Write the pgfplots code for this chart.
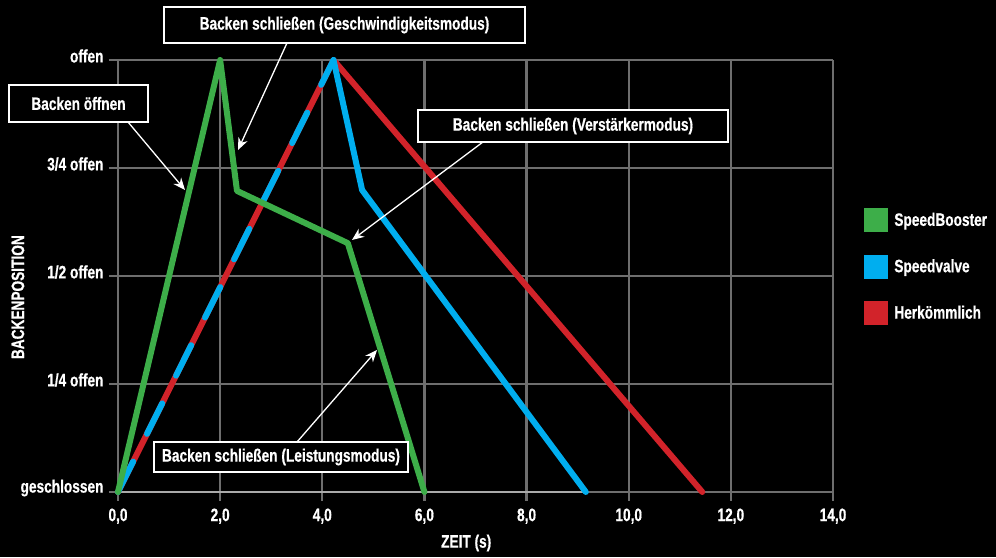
\documentclass[border=0pt]{standalone}
\usepackage{pgfplots}
\pgfplotsset{compat=1.18}
\usepackage{fontspec}
\setmainfont{Liberation Sans}
\newfontfamily\condbold{Liberation Sans Bold}[FakeStretch=0.76, FakeBold=0.6]
\usetikzlibrary{arrows.meta}
\definecolor{gridgray}{RGB}{110,110,110}
\definecolor{lightgridgray}{RGB}{170,170,170}
\definecolor{sbgreen}{RGB}{61,174,73}
\definecolor{svblue}{RGB}{0,174,239}
\definecolor{hkred}{RGB}{210,35,42}
\newcommand{\lbl}{\fontsize{18}{21}\selectfont\condbold}
\begin{document}
\begin{tikzpicture}[x=1pt,y=1pt]
\fill[black] (0,0) rectangle (996,557);
\begin{axis}[
  at={(118pt,65pt)}, anchor=south west,
  scale only axis, width=715pt, height=432pt,
  xmin=0, xmax=14, ymin=0, ymax=1, clip=false,
  axis line style={draw=none},
  xtick={0,2,...,14},
  xticklabels={{0,0},{2,0},{4,0},{6,0},{8,0},{10,0},{12,0},{14,0}},
  ytick={0,0.25,0.5,0.75,1},
  yticklabels={geschlossen,1/4 offen,1/2 offen,3/4 offen,offen},
  xtick pos=bottom, ytick pos=left,
  tick align=outside, major tick length=9pt,
  major tick style={draw=gridgray, line width=2.2pt},
  grid=major, major grid style={draw=gridgray, line width=2.2pt},
  ticklabel style={font=\lbl, text=white},
  xticklabel style={yshift=-4pt},
  yticklabel style={yshift=4pt, xshift=-2pt},
  xlabel={ZEIT (s)}, ylabel={BACKENPOSITION},
  label style={font=\lbl, text=white},
  xlabel style={at={(axis description cs:0.487,-0.118)}, anchor=center},
  ylabel style={at={(axis description cs:-0.14,0.451)}, anchor=center},
  legend style={at={(axis description cs:1.043,0.657)}, anchor=north west,
    draw=none, fill=none, text=white, font=\lbl, inner sep=0pt, row sep=23pt,
    /tikz/every odd column/.append style={column sep=5pt}},
  legend cell align=left,
]
\addplot[forget plot, draw=lightgridgray, line width=2.2pt] coordinates {(0,0) (9.16,0)};
% Herkoemmlich
\addplot[forget plot, color=hkred, line width=6pt, line join=round, line cap=round]
  coordinates {(0,0) (4.22,1) (11.44,0)};
% Speedvalve
\addplot[forget plot, color=svblue, line width=6pt, line join=round, line cap=round,
  dash pattern=on 34pt off 31pt]
  coordinates {(0,0) (4.22,1)};
\addplot[forget plot, color=svblue, line width=6pt, line join=round, line cap=round]
  coordinates {(4.22,1) (4.78,0.699) (9.16,0)};
% SpeedBooster
\addplot[forget plot, color=sbgreen, line width=6pt, line join=round, line cap=round]
  coordinates {(0,0) (2.0,1) (2.33,0.697) (4.50,0.576) (6.0,0)};
\addlegendimage{legend image code/.code={\fill[sbgreen] (0pt,-11.5pt) rectangle (23pt,11.5pt);}}
\addlegendentry{SpeedBooster}
\addlegendimage{legend image code/.code={\fill[svblue] (0pt,-11.5pt) rectangle (23pt,11.5pt);}}
\addlegendentry{Speedvalve}
\addlegendimage{legend image code/.code={\fill[hkred] (0pt,-11.5pt) rectangle (23pt,11.5pt);}}
\addlegendentry{Herkömmlich}
\end{axis}
\begin{scope}[white, line width=1.3pt]
\draw[-{Stealth[length=12pt,width=10pt]}] (287,514) -- (238,407);
\draw[-{Stealth[length=12pt,width=10pt]}] (128,435) -- (185,367);
\draw[-{Stealth[length=12pt,width=10pt]}] (483,415) -- (352,317);
\draw[-{Stealth[length=12pt,width=10pt]}] (297,115) -- (377,207);
\end{scope}
\tikzset{box/.style={draw=white, line width=1.5pt, fill=black, text=white, font=\lbl, inner sep=0pt}}
\node[box, minimum width=361pt, minimum height=36pt] at (344.5,532) {Backen schließen (Geschwindigkeitsmodus)};
\node[box, minimum width=139pt, minimum height=37pt] at (78.5,453.5) {Backen öffnen};
\node[box, minimum width=310pt, minimum height=32pt] at (573,431) {Backen schließen (Verstärkermodus)};
\node[box, minimum width=254pt, minimum height=30pt] at (281,100) {Backen schließen (Leistungsmodus)};
\end{tikzpicture}
\end{document}
